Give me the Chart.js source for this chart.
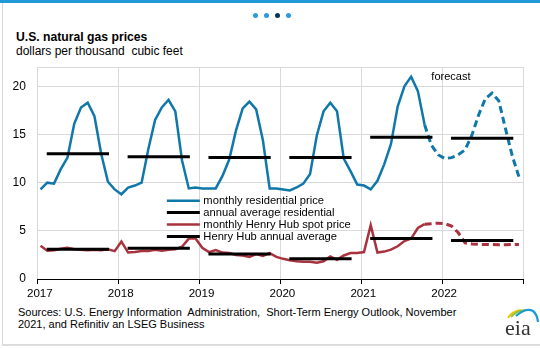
<!DOCTYPE html>
<html>
<head>
<meta charset="utf-8">
<script src="https://cdn.jsdelivr.net/npm/chart.js@4.4.1/dist/chart.umd.min.js"></script>
<style>
  body { margin: 0; width: 540px; height: 348px; background: #fff; position: relative; overflow: hidden;
         font-family: "Liberation Sans", Arial, sans-serif; color: #000; }
  .topbar { position: absolute; left: 0; top: 0; width: 540px; height: 3px; background: #1f9ad6; }
  .card { position: absolute; left: 2px; top: 3px; width: 540px; height: 341px;
          border-left: 1px solid #d6d6d6; border-bottom: 2px solid #dcdcdc; }
  .dot { position: absolute; top: 13px; width: 5px; height: 5px; border-radius: 50%; background: #2a9bd8; }
  .title { position: absolute; left: 16px; top: 30px; font-size: 12.2px; font-weight: bold; }
  .subtitle { position: absolute; left: 16px; top: 44px; font-size: 12px; white-space: pre; }
  .source { position: absolute; left: 18px; top: 306px; font-size: 11px; line-height: 12px; white-space: pre; }
  canvas { position: absolute; left: 0; top: 0; }
  svg { position: absolute; left: 500px; top: 300px; }
</style>
</head>
<body>
<div class="topbar"></div>
<div class="card"></div>
<div class="dot" style="left:253px"></div>
<div class="dot" style="left:264px"></div>
<div class="dot" style="left:275px;background:#0d3550"></div>
<div class="dot" style="left:286px"></div>
<div class="title">U.S. natural gas prices</div>
<div class="subtitle">dollars per thousand  cubic feet</div>
<div class="source">Sources: U.S. Energy Information  Administration,  Short-Term Energy Outlook, November
2021, and Refinitiv an LSEG Business</div>
<canvas id="gasChart" width="540" height="348"></canvas>
<svg width="40" height="40" viewBox="0 0 40 40">
  <path d="M8,18 Q12,11 21,10" fill="none" stroke="#f2c200" stroke-width="2"/>
  <path d="M11,17 Q17,10 27,10" fill="none" stroke="#8cc43f" stroke-width="2"/>
  <path d="M16,16 Q26,7 33,11 Q37,14 38,22" fill="none" stroke="#1c9ad6" stroke-width="2.2"/>
  <text x="5" y="35" font-family="Liberation Serif, DejaVu Serif, serif" font-size="22" fill="#333">eia</text>
</svg>

<script>
/* ===== Data (dollars per thousand cubic feet) ===== */
const years = [2017, 2018, 2019, 2020, 2021, 2022];

// monthly, Jan 2017 - Dec 2022 (Nov 2021 onward is forecast)
const residentialMonthly = [
  9.3, 10.0, 9.9, 11.4, 12.6, 16.1, 17.8, 18.3, 16.9, 13.0, 10.1, 9.3,
  8.8, 9.5, 9.7, 10.0, 13.5, 16.5, 17.8, 18.6, 17.4, 12.3, 9.4, 9.5,
  9.4, 9.4, 9.4, 10.7, 12.4, 15.4, 17.7, 18.4, 17.6, 14.4, 9.4, 9.4,
  9.3, 9.2, 9.5, 9.9, 10.9, 14.9, 17.4, 18.3, 17.4, 12.5, 11.2, 9.8,
  9.7, 9.3, 10.2, 11.9, 14.0, 17.9, 20.0, 21.0, 19.5, 16.0, 13.9, 12.9,
  12.5, 12.6, 12.9, 13.4, 14.9, 17.0, 18.7, 19.3, 18.5, 15.6, 12.8, 10.6
];
const henryHubMonthly = [
  3.45, 2.95, 3.0, 3.15, 3.25, 3.1, 3.05, 3.0, 3.05, 3.0, 3.1, 2.9,
  3.9, 2.75, 2.8, 2.9, 2.9, 3.05, 2.95, 3.05, 3.1, 3.35, 4.2, 4.2,
  3.25, 2.8, 3.0, 2.75, 2.7, 2.5, 2.45, 2.3, 2.6, 2.4, 2.7, 2.3,
  2.1, 1.95, 1.85, 1.8, 1.8, 1.7, 1.85, 2.35, 2.0, 2.45, 2.7, 2.7,
  2.8, 5.6, 2.75, 2.85, 3.05, 3.4, 3.95, 4.2, 5.3, 5.7, 5.75, 5.8,
  5.75, 5.5, 4.8, 3.75, 3.65, 3.6, 3.6, 3.6, 3.55, 3.55, 3.6, 3.6
];
const residentialAnnual = [13.0, 12.7, 12.6, 12.6, 14.7, 14.6];
const henryHubAnnual = [3.1, 3.2, 2.6, 2.1, 4.2, 4.0];

const lastHistoryIndex = 57; // Oct 2021
const legendLabels = [
  "monthly residential price",
  "annual average residential",
  "monthly Henry Hub spot price",
  "Henry Hub annual average"
];

const BLUE = "#1077aa";
const RED = "#a8323e";

/* ===== Build points ===== */
function monthlyPoints(values) {
  return values.map((v, i) => ({ x: years[0] + (i + 0.4) / 12, y: v }));
}
function annualPoints(values) {
  const pts = [];
  values.forEach((v, k) => {
    pts.push({ x: years[k] + 0.11, y: v });
    pts.push({ x: years[k] + 0.88, y: v });
    pts.push({ x: years[k] + 0.95, y: null });
  });
  return pts;
}
const forecastDash = ctx => ctx.p0DataIndex >= lastHistoryIndex ? [7, 4] : undefined;
const forecastWidth = ctx => ctx.p0DataIndex >= lastHistoryIndex ? 3 : undefined;

/* ===== Legend + forecast label ===== */
const overlay = {
  id: "overlay",
  afterDatasetsDraw(chart) {
    const { ctx, chartArea: a, scales: { x } } = chart;
    const colors = [BLUE, "#000", RED, "#000"];
    const widths = [2.5, 3, 2.5, 3];
    ctx.save();
    ctx.font = '11.2px "Liberation Sans", Arial, sans-serif';
    ctx.textBaseline = "middle";
    legendLabels.forEach((label, i) => {
      const y = a.top + 133.7 + i * 11.9;
      ctx.strokeStyle = colors[i];
      ctx.lineWidth = widths[i];
      ctx.beginPath();
      ctx.moveTo(a.left + 129, y);
      ctx.lineTo(a.left + 162, y);
      ctx.stroke();
      ctx.fillStyle = "#000";
      ctx.fillText(label, a.left + 165.5, y + 0.5);
    });
    ctx.font = '11px "Liberation Sans", Arial, sans-serif';
    ctx.fillText("forecast", x.getPixelForValue(years[0] + (lastHistoryIndex + 1.4) / 12), a.top + 10);
    ctx.restore();
  }
};

/* ===== Chart ===== */
Chart.defaults.font.family = '"Liberation Sans", Arial, sans-serif';
Chart.defaults.color = "#000";

new Chart(document.getElementById("gasChart"), {
  type: "line",
  data: {
    datasets: [
      {
        label: legendLabels[0],
        data: monthlyPoints(residentialMonthly),
        borderColor: BLUE,
        borderWidth: 2.5,
        segment: { borderDash: forecastDash, borderWidth: forecastWidth },
        order: 2
      },
      {
        label: legendLabels[2],
        data: monthlyPoints(henryHubMonthly),
        borderColor: RED,
        borderWidth: 2.5,
        segment: { borderDash: forecastDash, borderWidth: forecastWidth },
        order: 3
      },
      {
        label: legendLabels[1],
        data: annualPoints(residentialAnnual),
        borderColor: "#000",
        borderWidth: 3,
        spanGaps: false,
        order: 0
      },
      {
        label: legendLabels[3],
        data: annualPoints(henryHubAnnual),
        borderColor: "#000",
        borderWidth: 3,
        spanGaps: false,
        order: 1
      }
    ]
  },
  options: {
    responsive: false,
    animation: false,
    devicePixelRatio: 1,
    layout: { padding: { top: 67, left: 0.5, right: 17, bottom: 44 } },
    elements: { point: { radius: 0 }, line: { tension: 0 } },
    plugins: { legend: { display: false }, tooltip: { enabled: false }, title: { display: false } },
    scales: {
      x: {
        type: "linear",
        min: years[0],
        max: years[years.length - 1] + 1,
        grid: { color: "#d9d9d9", tickColor: "#000", tickLength: 5 },
        border: { color: "#000", width: 1 },
        ticks: {
          stepSize: 1,
          autoSkip: false,
          maxRotation: 0,
          padding: 3,
          labelOffset: 2,
          font: { size: 11.6 },
          callback: v => years.includes(v) ? String(v) : ""
        }
      },
      y: {
        min: 0,
        max: 22,
        grid: { color: "#d9d9d9", drawTicks: false },
        border: { display: false },
        afterBuildTicks: axis => { axis.ticks = [0, 5, 10, 15, 20, 22].map(v => ({ value: v })); },
        ticks: {
          padding: 12,
          font: { size: 12 },
          callback: v => (v % 5 === 0 ? v : "")
        }
      }
    }
  },
  plugins: [overlay]
});
</script>
</body>
</html>
